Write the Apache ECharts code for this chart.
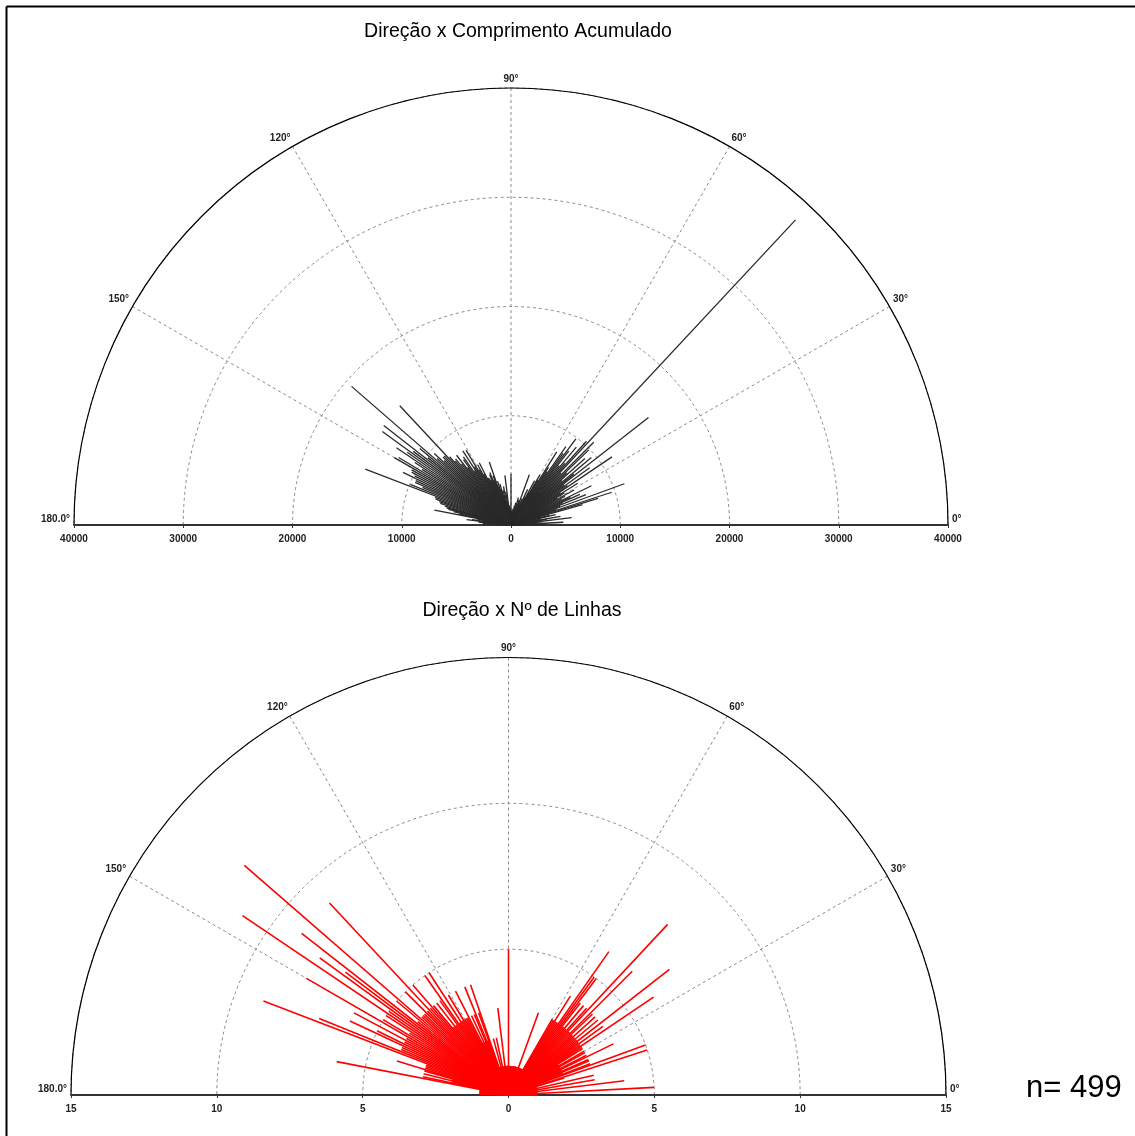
<!DOCTYPE html>
<html><head><meta charset="utf-8">
<script src="https://cdn.jsdelivr.net/npm/echarts@6/dist/echarts.min.js"></script>
<style>html,body{margin:0;padding:0;background:#fff}#c{width:1135px;height:1136px}</style>
</head><body><div id="c"></div>
<script>
// Direction bins (degrees) that have at least one line
const directions = [
  0,1,2,3,4,5,6,7,8,9,
  10,11,12,13,14,15,16,17,18,19,
  20,21,22,23,24,25,26,27,28,29,
  30,31,32,33,34,35,36,37,38,39,
  40,41,42,43,44,45,46,47,48,49,
  50,51,52,53,54,55,56,57,58,59,
  60,61,62,63,64,65,66,67,68,69,
  70,71,72,73,74,75,76,77,78,79,
  80,81,83,85,87,89,
  90,91,92,93,94,95,96,97,98,99,
  100,101,102,103,104,105,106,107,108,109,
  110,111,112,113,114,115,116,117,118,119,
  120,121,122,123,124,125,126,127,128,129,
  130,131,132,133,134,135,136,137,138,139,
  140,141,142,143,144,145,146,147,148,149,
  150,151,152,153,154,155,156,157,158,159,
  160,161,162,163,164,165,166,167,168,169,
  170,171,172,173,174,175,176,177,178,179
];
// Number of lines per direction bin
const counts = [
  1,1,1,5,1,1,1,4,1,1,
  3,1,1,3,1,1,1,2,5,1,
  5,3,2,3,3,2,4,3,2,3,
  3,2,3,3,6,3,4,3,7,3,
  4,3,4,3,4,6,3,8,4,3,
  4,3,4,5,5,6,3,3,4,3,
  3,1,1,1,1,1,1,1,1,1,
  3,1,1,1,1,1,1,1,1,1,
  1,1,1,1,1,1,
  5,1,1,1,1,1,1,3,1,1,
  1,1,2,1,1,2,1,1,1,4,
  3,2,4,3,2,3,2,4,3,3,
  3,4,3,5,3,5,4,3,4,3,
  4,5,4,9,4,5,4,4,4,12,
  5,4,9,7,8,5,11,5,4,5,
  8,4,6,4,5,6,4,4,7,9,
  3,3,3,4,3,2,3,2,3,6,
  1,1,1,1,1,1,1,1,1,1
];
// Accumulated length per direction bin
const lengths = [
  2600,1200,3100,4800,2200,1400,2900,5600,2500,3300,
  4600,2700,1100,4200,3600,2800,6800,8330,9700,4400,
  11040,4800,7400,5100,6900,6000,8200,5200,5600,6600,
  4900,5700,7200,5400,11150,6300,8900,6100,15970,7400,
  9600,6200,9100,7000,9900,10710,6600,38190,10320,7500,
  9300,7000,8600,9875,8100,8756,5900,6300,7900,4800,
  5300,3400,4600,2900,2100,3600,1800,2600,1500,2200,
  4900,1700,2400,1300,1900,2600,1600,1200,2100,1400,
  1800,1100,1500,900,1300,1000,
  4700,1200,1600,900,1800,1300,1100,4570,1500,3100,
  1700,3600,2000,3300,2800,3900,3400,4200,3700,6100,
  4800,4400,5190,5000,4500,4700,4800,6400,5300,6300,
  5800,8000,6300,8100,6000,7600,7400,6600,8100,7200,
  7900,7780,8400,14930,8800,8800,8500,9600,9100,19340,
  10900,9800,14780,11200,14560,11600,12650,10500,9600,12000,
  12330,10400,10300,9900,11000,9620,9600,8800,9940,14290,
  7400,7300,6900,6770,6300,6100,5900,5400,4900,7140,
  3200,2700,3600,4100,2400,3000,1900,2600,1500,2100
];
const angleLabels = ['0°','30°','60°','90°','120°','150°','180.0°'];
const lengthTickLabels = ['40000','30000','20000','10000','0','10000','20000','30000','40000'];
const countTickLabels = ['15','10','5','0','5','10','15'];
const titles = ['Direção x Comprimento Acumulado','Direção x Nº de Linhas'];
const nLabel = 'n= 499';

const FONT = 'Liberation Sans, Arial, sans-serif';
const chart = echarts.init(document.getElementById('c'));

const labelFont = {fontSize:10, fontWeight:'bold', color:'#222', fontFamily:FONT};
function angleAxis(idx){
  return {
    polarIndex: idx, type:'value', min:0, max:180, interval:30,
    startAngle:0, endAngle:180, clockwise:false,
    axisLine:{show:true, lineStyle:{color:'#000', width:1.2}},
    axisTick:{show:false},
    axisLabel:Object.assign({show:true, margin:4,
      formatter:(v)=>{
        const k = Math.round(v/30);
        return (k===0 || k===6) ? '{e|' + angleLabels[k] + '}' : angleLabels[k];
      },
      rich:{e:Object.assign({padding:[0,0,12,0]}, labelFont)}
    }, labelFont),
    splitLine:{show:true, lineStyle:{color:'#8a8a8a', type:[3,3], width:1}}
  };
}
function radiusAxis(idx, max, interval){
  return {
    polarIndex: idx, type:'value', min:0, max:max, interval:interval,
    axisLine:{show:false}, axisTick:{show:false}, axisLabel:{show:false},
    splitLine:{show:true, lineStyle:{color:'#8a8a8a', type:[3,3], width:1}}
  };
}
function baseAxis(idx, max, interval, labels){
  return {
    gridIndex: idx, type:'value', min:-max, max:max, interval:interval,
    axisLine:{show:true, onZero:false, lineStyle:{color:'#333', width:2}},
    axisTick:{show:true, length:3, lineStyle:{color:'#333'}},
    splitLine:{show:false},
    axisLabel:Object.assign({margin:9, formatter:(v,i)=>labels[i]}, labelFont)
  };
}
function spokeSeries(idx, color, width, values){
  return {
    type:'custom', coordinateSystem:'polar', polarIndex:idx,
    silent:true, animation:false,
    data: directions.map((d,i)=>[values[i], d]),
    renderItem:(params, api)=>{
      const a = api.value(1);
      const p0 = api.coord([0, a]);
      const p1 = api.coord([api.value(0), a]);
      return {type:'line', shape:{x1:p0[0], y1:p0[1], x2:p1[0], y2:p1[1]},
        style:{stroke:color, lineWidth:width}};
    }
  };
}

chart.setOption({
  animation:false,
  backgroundColor:'#fff',
  title:[
    {text:titles[0], left:513, top:17, textAlign:'center', textStyle:{fontSize:19.5, fontWeight:'normal', color:'#000', fontFamily:FONT}},
    {text:titles[1], left:517, top:596, textAlign:'center', textStyle:{fontSize:19.5, fontWeight:'normal', color:'#000', fontFamily:FONT}}
  ],
  polar:[
    {center:[511,525], radius:437},
    {center:[508.5,1095], radius:437.5}
  ],
  angleAxis:[angleAxis(0), angleAxis(1)],
  radiusAxis:[radiusAxis(0, 40000, 10000), radiusAxis(1, 15, 5)],
  grid:[
    {left:74, width:874, top:480, height:45},
    {left:71, width:875, top:1050, height:45}
  ],
  xAxis:[baseAxis(0, 40000, 10000, lengthTickLabels), baseAxis(1, 15, 5, countTickLabels)],
  yAxis:[{gridIndex:0, show:false, min:0, max:1}, {gridIndex:1, show:false, min:0, max:1}],
  series:[spokeSeries(0, '#2a2a2a', 1.3, lengths), spokeSeries(1, '#ff0000', 1.6, counts)],
  graphic:[
    {type:'line', shape:{x1:6.5, y1:6.5, x2:1135, y2:6.5}, style:{stroke:'#000', lineWidth:2}},
    {type:'line', shape:{x1:6.5, y1:6.5, x2:6.5, y2:1136}, style:{stroke:'#000', lineWidth:2}},
    {type:'text', left:1026, top:1073, style:{text:nLabel, fontSize:31, fill:'#000', fontFamily:FONT}}
  ]
});
</script></body></html>
